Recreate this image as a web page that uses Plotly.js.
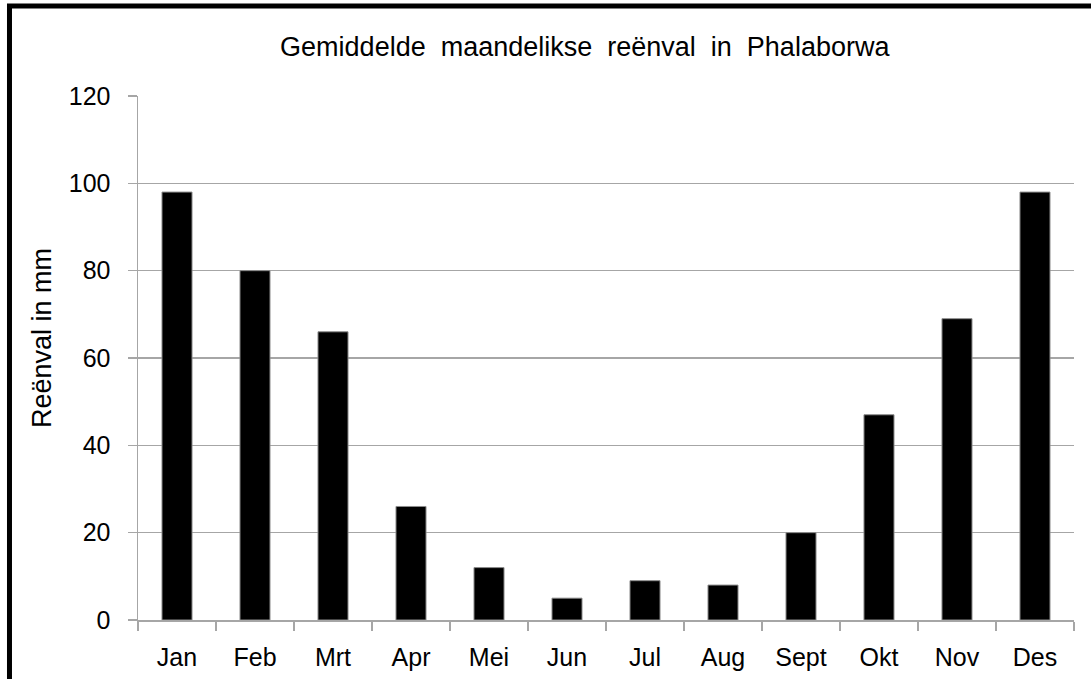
<!DOCTYPE html>
<html>
<head>
<meta charset="utf-8">
<script src="https://cdn.plot.ly/plotly-3.0.1.min.js"></script>
<style>
html,body{margin:0;padding:0;background:#fff;}
#chart{width:1091px;height:679px;}
</style>
</head>
<body>
<div id="chart"></div>
<script>
const months = ["Jan","Feb","Mrt","Apr","Mei","Jun","Jul","Aug","Sept","Okt","Nov","Des"];
const rainfall = [98, 80, 66, 26, 12, 5, 9, 8, 20, 47, 69, 98];
const yTicks = [0, 20, 40, 60, 80, 100, 120];
const titleText = "Gemiddelde  maandelikse  reënval  in  Phalaborwa";
const yTitleText = "Reënval in mm";

const FONT = "Liberation Sans, Arial, sans-serif";
const GRID = "#a6a6a6";

const trace = {
  type: "bar",
  x: months,
  y: rainfall,
  marker: {color: "#000000", line: {color: "#8c8c8c", width: 1}},
  hoverinfo: "x+y"
};

const layout = {
  width: 1091,
  height: 679,
  margin: {l: 138, r: 17, t: 96, b: 59},
  paper_bgcolor: "#ffffff",
  plot_bgcolor: "#ffffff",
  bargap: 0.615,
  showlegend: false,
  title: {
    text: titleText,
    font: {family: FONT, size: 27, color: "#000"},
    xref: "container", x: 0.536, xanchor: "center",
    yref: "container", y: 0.931, yanchor: "middle"
  },
  xaxis: {
    type: "category",
    showline: true, linecolor: GRID, linewidth: 1.5,
    ticks: "outside", tickson: "boundaries", ticklen: 9, tickcolor: GRID, tickwidth: 1.5,
    tickfont: {family: FONT, size: 25, color: "#000"},
    ticklabelstandoff: 14,
    showgrid: false, zeroline: false,
    fixedrange: true
  },
  yaxis: {
    range: [0, 120],
    tickvals: yTicks,
    ticktext: yTicks.map(String),
    showline: true, linecolor: GRID, linewidth: 1.5,
    ticks: "outside", ticklen: 9, tickcolor: GRID, tickwidth: 1.5,
    showgrid: true, gridcolor: GRID, gridwidth: 1.5,
    zeroline: false,
    tickfont: {family: FONT, size: 25, color: "#000"},
    ticklabelstandoff: 12,
    fixedrange: true
  },
  annotations: [{
    text: yTitleText, textangle: -90,
    xref: "paper", yref: "paper", x: -0.1026, y: 0.538,
    xanchor: "center", yanchor: "middle", showarrow: false,
    font: {family: FONT, size: 27, color: "#000"}
  }],
  shapes: [{
    type: "rect", xref: "paper", yref: "paper",
    x0: -0.1373, x1: 1.2, y0: -0.3, y1: 1.1718,
    line: {color: "#000", width: 5}, fillcolor: "rgba(0,0,0,0)", layer: "above"
  }]
};

Plotly.newPlot("chart", [trace], layout, {displayModeBar: false, staticPlot: true});
</script>
</body>
</html>
